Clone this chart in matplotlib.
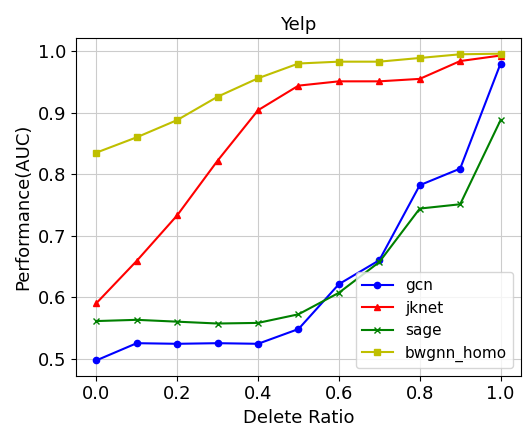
import matplotlib
matplotlib.use("Agg")
import matplotlib.pyplot as plt

ratios = [0.0, 0.1, 0.2, 0.3, 0.4, 0.5, 0.6, 0.7, 0.8, 0.9, 1.0]
gcn = [0.497, 0.525, 0.524, 0.525, 0.524, 0.548, 0.621, 0.660, 0.782, 0.809, 0.980]
jknet = [0.590, 0.659, 0.733, 0.822, 0.904, 0.944, 0.951, 0.951, 0.955, 0.984, 0.993]
sage = [0.561, 0.563, 0.560, 0.557, 0.558, 0.572, 0.607, 0.657, 0.744, 0.751, 0.888]
bwgnn_homo = [0.835, 0.860, 0.888, 0.926, 0.956, 0.980, 0.983, 0.983, 0.989, 0.995, 0.996]

fig, ax = plt.subplots(figsize=(5.25, 4.26), dpi=100)
ax.plot(ratios, gcn, color='b', marker='o', markersize=4.5, label='gcn')
ax.plot(ratios, jknet, color='r', marker='^', markersize=4.5, label='jknet')
ax.plot(ratios, sage, color='g', marker='x', markersize=4.5, label='sage')
ax.plot(ratios, bwgnn_homo, color='y', marker='s', markersize=4.5, label='bwgnn_homo')
ax.set_title('Yelp', fontsize=13)
ax.set_xlabel('Delete Ratio', fontsize=13)
ax.set_ylabel('Performance(AUC)', fontsize=13)
ax.tick_params(labelsize=13)
ax.set_xticks([0.0, 0.2, 0.4, 0.6, 0.8, 1.0])
ax.set_yticks([0.5, 0.6, 0.7, 0.8, 0.9, 1.0])
ax.grid(True, color='#cccccc')
ax.legend(loc='lower right', fontsize=11)
fig.subplots_adjust(left=0.145, right=0.992, top=0.91, bottom=0.118)
fig.savefig('out.png')
